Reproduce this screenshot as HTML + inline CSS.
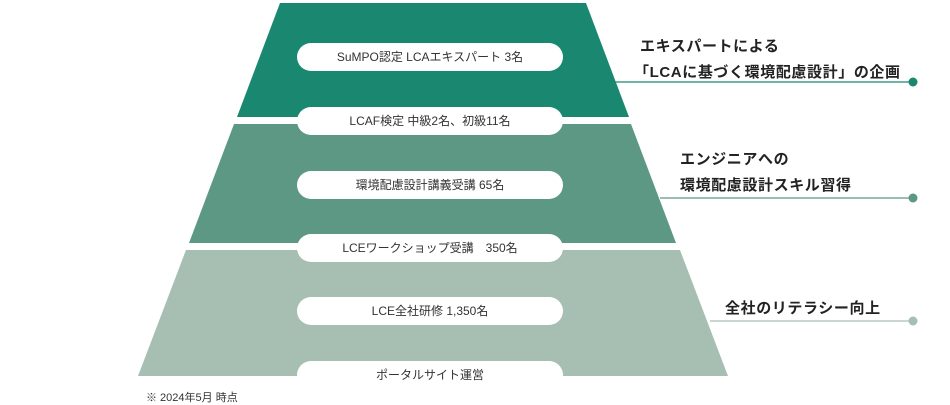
<!DOCTYPE html>
<html><head><meta charset="utf-8"><style>
html,body{margin:0;padding:0;background:#fff;}
body{width:950px;height:405px;position:relative;overflow:hidden;font-family:"Liberation Sans","Noto Sans CJK JP",sans-serif;}
.pill{position:absolute;left:297px;width:266px;height:28px;border-radius:14px;background:#fff;color:#333;font-size:12px;line-height:28px;text-align:center;}
.lbl{position:absolute;font-size:15px;font-weight:bold;color:#222;white-space:nowrap;letter-spacing:0.6px;}
.fn{position:absolute;left:146px;top:389px;font-size:11px;color:#333;}
</style></head><body>
<svg width="950" height="405" style="position:absolute;left:0;top:0">
<polygon points="280,3 586,3 629,117 237,117" fill="#1a8870"/>
<polygon points="234,124 631,124 676,243 189,243" fill="#5d9885"/>
<polygon points="186,250 680,250 728,376 138,376" fill="#a7bfb2"/>
<line x1="615" y1="82" x2="913" y2="82" stroke="#1a8870" stroke-width="1.2"/>
<circle cx="913" cy="82" r="4.5" fill="#1a8870"/>
<line x1="660" y1="198" x2="913" y2="198" stroke="#5d9885" stroke-width="1.2"/>
<circle cx="913" cy="198" r="4.5" fill="#5d9885"/>
<line x1="710" y1="321" x2="913" y2="321" stroke="#a7bfb2" stroke-width="1.2"/>
<circle cx="913" cy="321" r="4.5" fill="#a7bfb2"/>
</svg>
<div class="pill" style="top:43px">SuMPO認定 LCAエキスパート 3名</div>
<div class="pill" style="top:107px">LCAF検定 中級2名、初級11名</div>
<div class="pill" style="top:171px">環境配慮設計講義受講 65名</div>
<div class="pill" style="top:234px">LCEワークショップ受講　350名</div>
<div class="pill" style="top:297px">LCE全社研修 1,350名</div>
<div class="pill" style="top:361px">ポータルサイト運営</div>
<div class="lbl" style="left:640px;top:35px">エキスパートによる</div>
<div class="lbl" style="left:634px;top:61px">「LCAに基づく環境配慮設計」の企画</div>
<div class="lbl" style="left:680px;top:148px">エンジニアへの</div>
<div class="lbl" style="left:680px;top:174px">環境配慮設計スキル習得</div>
<div class="lbl" style="left:725px;top:297px">全社のリテラシー向上</div>
<div class="fn">※ 2024年5月 時点</div>
</body></html>
